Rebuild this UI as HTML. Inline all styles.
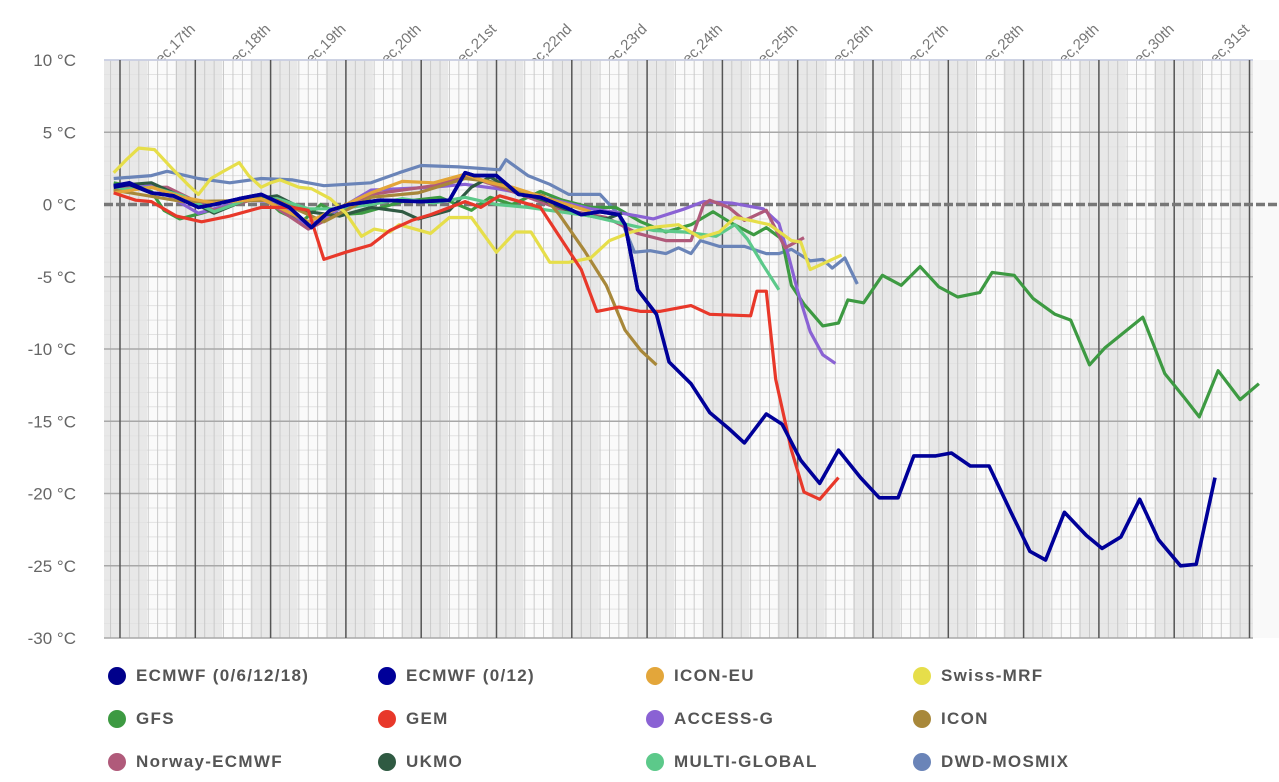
<!DOCTYPE html>
<html><head><meta charset="utf-8"><style>
body{margin:0;background:#fff;width:1279px;height:782px;overflow:hidden;font-family:"Liberation Sans",sans-serif}
.leg{position:absolute;font-size:17px;color:#555;font-weight:bold;letter-spacing:1.3px;display:flex;align-items:center}
.leg span.d{width:18px;height:18px;border-radius:50%;display:inline-block;margin-right:10px}
</style></head><body>
<svg id="chart" width="1279" height="650" style="position:absolute;left:0;top:0"></svg>
<div id="legend"></div>
<script>
const dayLabels=["Dec,17th","Dec,18th","Dec,19th","Dec,20th","Dec,21st","Dec,22nd","Dec,23rd","Dec,24th","Dec,25th","Dec,26th","Dec,27th","Dec,28th","Dec,29th","Dec,30th","Dec,31st"];
const yTicks=[10,5,0,-5,-10,-15,-20,-25,-30];
const names=["ECMWF (0/6/12/18)","ECMWF (0/12)","ICON-EU","Swiss-MRF","GFS","GEM","ACCESS-G","ICON","Norway-ECMWF","UKMO","MULTI-GLOBAL","DWD-MOSMIX"];
const colors=["#00008b","#000099","#e3a63a","#e6de4a","#3d9a42","#e8382a","#8a62d4","#a8883a","#b05a7a","#2f5a42","#5cc98a","#6a84b8"];
// hours since Dec 17 00:00, temperatures °C
const ecmwf6H=[-2,3,10,17,25,30,38,45,54,61,67,73,83,96,105,110,113,120,127,134,142,147,153,159,161,165,171];
const ecmwf6T=[1.2,1.4,0.8,0.6,-0.2,0,0.4,0.7,-0.2,-1.6,-0.4,0,0.3,0.2,0.3,2.2,2.0,2.0,0.7,0.5,-0.2,-0.7,-0.5,-0.7,-1.4,-5.9,-7.6];
const ecmwfH=[-2,3,10,17,25,30,38,45,54,61,67,73,83,96,105,110,113,120,127,134,142,147,153,159,161,165,171,175,182,188,194,199,206,211,217,223,229,236,242,248,253,260,265,271,277,284,290,295,301,308,313,319,325,331,338,343,349];
const ecmwfT=[1.3,1.5,0.8,0.6,-0.2,0,0.4,0.7,-0.2,-1.6,-0.4,0,0.3,0.2,0.3,2.2,2.0,2.0,0.7,0.5,-0.2,-0.7,-0.5,-0.7,-1.4,-5.9,-7.6,-10.9,-12.4,-14.4,-15.5,-16.5,-14.5,-15.2,-17.7,-19.3,-17.0,-18.9,-20.3,-20.3,-17.4,-17.4,-17.2,-18.1,-18.1,-21.3,-24.0,-24.6,-21.3,-22.9,-23.8,-23.0,-20.4,-23.2,-25.0,-24.9,-18.9];
const iconEuH=[-2,10,20,30,45,60,70,80,90,100,110,118,125,135,150];
const iconEuT=[0.8,1.2,0.5,0.1,0.4,-1.2,-0.2,0.8,1.6,1.5,2.1,1.5,1.2,0.5,-0.5];
const swissH=[-2,2,6,11,14,17,22,25,29,33,38,41,45,48,51,57,61,67,72,77,81,86,89,99,105,112,120,126,131,137,143,150,156,163,169,178,185,191,196,201,207,214,217,220,225,230];
const swissT=[2.2,3.1,3.9,3.8,3.1,2.4,1.3,0.7,1.8,2.3,2.9,2.0,1.2,1.5,1.7,1.2,1.1,0.4,-0.6,-2.2,-1.7,-1.9,-1.4,-2.0,-0.9,-0.9,-3.3,-1.9,-1.9,-4.0,-4.0,-3.7,-2.5,-1.9,-1.6,-1.4,-2.3,-1.9,-0.9,-1.1,-1.4,-2.5,-2.6,-4.5,-4.0,-3.5];
const gfsH=[-2,3,10,14,19,26,35,45,51,58,64,70,77,90,102,112,118,125,134,141,150,158,166,174,182,189,195,202,206,211,214,218,224,229,232,237,243,249,255,261,267,274,278,285,291,298,303,309,314,326,333,339,344,350,357,363];
const gfsT=[1.5,1.3,0.9,-0.4,-1.0,-0.6,0,0.7,-0.5,-1.2,0,-0.7,-0.6,0.2,0.5,-0.4,0.5,0,0.9,0.3,-0.2,-0.2,-1.2,-1.9,-1.4,-0.5,-1.3,-2.1,-1.6,-2.4,-5.6,-6.9,-8.4,-8.2,-6.6,-6.8,-4.9,-5.6,-4.3,-5.7,-6.4,-6.1,-4.7,-4.9,-6.5,-7.6,-8.0,-11.1,-9.9,-7.8,-11.7,-13.3,-14.7,-11.5,-13.5,-12.4];
const gemH=[-2,5,10,18,26,35,45,55,60,65,72,80,86,93,99,110,115,121,134,140,147,152,159,166,172,182,188,201,203,206,209,214,218,223,229];
const gemT=[0.8,0.3,0.2,-0.8,-1.2,-0.8,-0.2,-0.2,-0.4,-3.8,-3.3,-2.8,-1.8,-1.1,-0.7,0.2,-0.2,0.6,-0.2,-2.2,-4.5,-7.4,-7.1,-7.4,-7.4,-7.0,-7.6,-7.7,-6.0,-6.0,-12.1,-17.0,-19.9,-20.4,-18.9];
const accessH=[-2,10,25,40,50,60,70,80,100,110,120,135,150,160,170,180,186,195,205,210,213,216,220,224,228];
const accessT=[1.0,1.3,-0.6,0.3,0.2,-1.5,-0.3,1.0,1.2,1.4,1.1,0.5,-0.3,-0.6,-1.0,-0.3,0.2,0.1,-0.3,-1.3,-3.5,-6.0,-8.8,-10.4,-11.0];
const iconH=[-2,20,50,65,80,95,110,118,125,135,140,148,155,161,166,171];
const iconT=[1.0,0.2,0.3,-1.2,0.5,0.8,1.8,1.6,1.0,0.6,-0.7,-3.2,-5.6,-8.7,-10.1,-11.1];
const norwayH=[-2,15,30,45,60,70,80,100,110,120,140,155,165,174,182,186,188,194,199,206,212,218];
const norwayT=[1.1,1.2,-0.4,0.5,-1.7,-0.6,0.7,1.3,2.0,1.3,-0.3,-0.9,-2.0,-2.5,-2.5,0.0,0.3,-0.2,-1.1,-0.4,-3.0,-2.3];
const ukmoH=[-2,10,20,30,40,50,60,70,80,90,95,105,112,118,125,135,145,155,160];
const ukmoT=[1.3,1.5,0.5,-0.6,0.3,0.6,-0.5,-0.8,-0.2,-0.5,-1.0,-0.4,1.2,1.9,1.0,0.3,-0.6,-1.0,-0.6];
const multiH=[-2,10,20,30,40,50,60,70,80,90,100,110,120,130,140,150,160,170,180,190,196,200,205,210];
const multiT=[1.0,1.2,0.6,-0.5,0.3,0.4,-0.3,-0.3,0,0.4,0.1,0.5,0.0,-0.2,-0.5,-0.8,-1.3,-1.8,-1.9,-2.2,-1.4,-2.4,-4.2,-5.9];
const dwdH=[-2,10,15,25,35,45,55,65,80,89,96,108,121,123,130,137,143,153,159,164,169,174,178,182,185,191,199,206,210,214,220,224,227,231,235];
const dwdT=[1.8,2.0,2.3,1.8,1.5,1.8,1.7,1.3,1.5,2.2,2.7,2.6,2.4,3.1,2.0,1.4,0.7,0.7,-0.7,-3.3,-3.2,-3.4,-3.0,-3.4,-2.5,-2.9,-2.9,-3.4,-3.4,-3.1,-3.9,-3.8,-4.4,-3.7,-5.5];
const seriesH=[ecmwf6H,ecmwfH,iconEuH,swissH,gfsH,gemH,accessH,iconH,norwayH,ukmoH,multiH,dwdH];
const seriesT=[ecmwf6T,ecmwfT,iconEuT,swissT,gfsT,gemT,accessT,iconT,norwayT,ukmoT,multiT,dwdT];
const drawOrder=[11,4,6,8,9,10,7,2,3,5,0,1];

const X0=120,DAY=75.3,PL=104,PR=1253,PT=60,PB=638;
const xS=h=>X0+h/24*DAY;
const yS=t=>PT+(10-t)*(PB-PT)/40;
const NS="http://www.w3.org/2000/svg";
const svg=document.getElementById('chart');
function mk(tag,a,p){const e=document.createElementNS(NS,tag);for(const k in a)e.setAttribute(k,a[k]);(p||svg).appendChild(e);return e;}
dayLabels.forEach((d,i)=>{const x=X0+i*DAY+76;const t=mk('text',{x:x,y:30,'text-anchor':'end',transform:`rotate(-45 ${x} 30)`,'font-size':15,fill:'#777'});t.textContent=d;

});
mk('rect',{x:PL,y:PT,width:PR-PL,height:PB-PT,fill:'#fafafa'});
mk('rect',{x:PR,y:PT,width:1279-PR,height:PB-PT,fill:'#f9f9f9'});
for(let i=-1;i<16;i++){const d=X0+i*DAY;
 const a=Math.max(PL,d-20),b=Math.min(PR,d+27);if(b>a)mk('rect',{x:a,y:PT,width:b-a,height:PB-PT,fill:'#e8e8e8'});}
for(let t=-30;t<=10;t++){if(t%5)mk('line',{x1:PL,x2:PR,y1:yS(t),y2:yS(t),stroke:'#e2e2e2','stroke-width':1});}
for(let i=-1;i<16*8;i++){const x=X0+i*DAY/8;if(x>PL&&x<PR&&i%8)mk('line',{x1:x,x2:x,y1:PT,y2:PB,stroke:'#c6c6c6','stroke-width':0.9});}
yTicks.forEach(t=>{if(t!==0)mk('line',{x1:PL,x2:PR,y1:yS(t),y2:yS(t),stroke:'#a8a8a8','stroke-width':1.5});
 const l=mk('text',{x:76,y:yS(t)+6,'text-anchor':'end','font-size':17,fill:'#666'});l.textContent=t+' °C';
 
 });
mk('line',{x1:PL,x2:PR,y1:PT,y2:PT,stroke:'#cdd3ea','stroke-width':1.5});
for(let i=0;i<16;i++){const x=X0+i*DAY;if(x<PR)mk('line',{x1:x,x2:x,y1:PT,y2:PB,stroke:'#555','stroke-width':1.5});}
mk('line',{x1:PL,x2:1279,y1:yS(0),y2:yS(0),stroke:'#777','stroke-width':3.5,'stroke-dasharray':'9,3'});
drawOrder.forEach(s=>{const pts=seriesH[s].map((h,j)=>xS(h).toFixed(1)+','+yS(seriesT[s][j]).toFixed(1)).join(' ');
 const p=mk('polyline',{points:pts,fill:'none',stroke:colors[s],'stroke-width':s<2?3.6:3.2,'stroke-linejoin':'round'});
 
 });
const lg=document.getElementById('legend');const cols=[117,387,655,922],rows=[677,720,763];
names.forEach((n,i)=>{const d=document.createElement('div');d.className='leg';
 d.style.left=(cols[i%4]-9)+'px';d.style.top=(rows[Math.floor(i/4)]-11)+'px';
 d.innerHTML=`<span class="d" style="background:${colors[i]}"></span>${n}`;
 
 
 lg.appendChild(d);});
</script>
</body></html>
